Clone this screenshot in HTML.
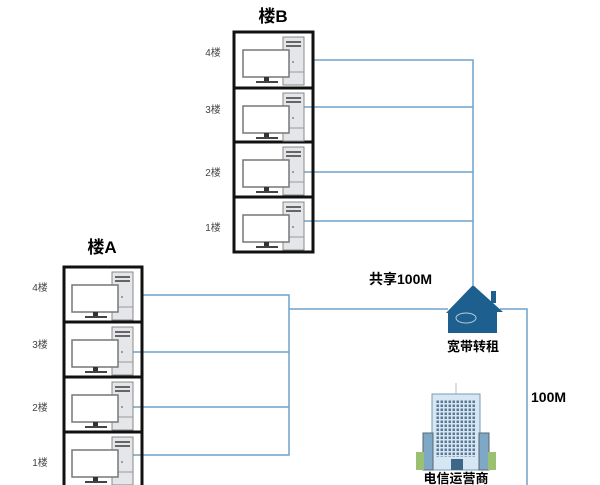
<!DOCTYPE html>
<html><head><meta charset="utf-8"><style>
body{margin:0;background:#fff;width:600px;height:485px;overflow:hidden}
svg{display:block}
text{font-family:"Liberation Sans","Noto Sans CJK SC",sans-serif}
</style></head><body>
<svg width="600" height="485" viewBox="0 0 600 485">
<defs>
<g id="pc">
  <rect x="49" y="5" width="21" height="48" fill="#e4e6ea" stroke="#888" stroke-width="1"/>
  <rect x="52" y="9" width="15" height="2" fill="#666"/>
  <rect x="52" y="13" width="15" height="2" fill="#666"/>
  <circle cx="59" cy="30" r="1" fill="#888"/>
  <line x1="49" y1="40" x2="70" y2="40" stroke="#999"/>
  <rect x="9" y="18" width="46" height="27" fill="#fff" stroke="#777" stroke-width="1.5"/>
  <rect x="30" y="45" width="5" height="4" fill="#333"/>
  <rect x="22" y="49" width="22" height="2" fill="#444"/>
</g>
<pattern id="win" x="0" y="0" width="4" height="4" patternUnits="userSpaceOnUse">
  <rect width="4" height="4" fill="#d6e6f2"/>
  <rect x="0.5" y="0.5" width="2.5" height="2.5" fill="#5a7a96"/>
</pattern>
</defs>
<g stroke="#6fa3cc" stroke-width="1.5" fill="none">
  <polyline points="314,60 473,60 473,285"/>
  <line x1="300" y1="107" x2="473" y2="107"/>
  <line x1="300" y1="172" x2="473" y2="172"/>
  <line x1="300" y1="221" x2="473" y2="221"/>
  <polyline points="143,295 289,295 289,455 128,455"/>
  <line x1="128" y1="352" x2="289" y2="352"/>
  <line x1="128" y1="407" x2="289" y2="407"/>
  <line x1="289" y1="309" x2="448" y2="309"/>
  <polyline points="500,309 527,309 527,485"/>
</g>
<text x="273" y="22" font-size="17" font-weight="bold" text-anchor="middle">楼B</text>
<rect x="234" y="32" width="79" height="220" fill="none" stroke="#111" stroke-width="3"/>
<g stroke="#111" stroke-width="3"><line x1="234" y1="88" x2="313" y2="88"/><line x1="234" y1="142" x2="313" y2="142"/><line x1="234" y1="197" x2="313" y2="197"/></g>
<use href="#pc" x="234" y="32"/><use href="#pc" x="234" y="88"/><use href="#pc" x="234" y="142"/><use href="#pc" x="234" y="197"/>
<g font-size="10" fill="#444" text-anchor="middle"><text x="213" y="56">4楼</text><text x="213" y="113">3楼</text><text x="213" y="176">2楼</text><text x="213" y="231">1楼</text></g>
<text x="102" y="253" font-size="17" font-weight="bold" text-anchor="middle">楼A</text>
<rect x="64" y="267" width="78" height="220" fill="none" stroke="#111" stroke-width="3"/>
<g stroke="#111" stroke-width="3"><line x1="64" y1="322" x2="142" y2="322"/><line x1="64" y1="377" x2="142" y2="377"/><line x1="64" y1="432" x2="142" y2="432"/></g>
<use href="#pc" x="63" y="267"/><use href="#pc" x="63" y="322"/><use href="#pc" x="63" y="377"/><use href="#pc" x="63" y="432"/>
<g font-size="10" fill="#444" text-anchor="middle"><text x="40" y="291">4楼</text><text x="40" y="348">3楼</text><text x="40" y="411">2楼</text><text x="40" y="466">1楼</text></g>
<text x="369" y="284" font-size="14" font-weight="bold">共享100M</text>
<text x="531" y="402" font-size="14" font-weight="bold">100M</text>
<g fill="#1d5f8f">
  <polygon points="446,313 473,285 503,312 497,312 497,333 448,333 448,313"/>
  <rect x="491" y="291" width="5" height="12"/>
</g>
<ellipse cx="466" cy="318" rx="10" ry="5" fill="none" stroke="#bcd" stroke-width="1"/>
<text x="473" y="351" font-size="13" font-weight="bold" text-anchor="middle">宽带转租</text>
<line x1="456" y1="383" x2="456" y2="394" stroke="#bbb"/>
<rect x="432" y="394" width="48" height="76" fill="#d6e6f2" stroke="#7a9bb5"/>
<rect x="436" y="399" width="40" height="58" fill="url(#win)"/>
<rect x="423" y="433" width="10" height="37" fill="#7fa8c6" stroke="#567"/>
<rect x="479" y="433" width="10" height="37" fill="#7fa8c6" stroke="#567"/>
<rect x="416" y="452" width="8" height="18" fill="#9bc071"/>
<rect x="488" y="452" width="8" height="18" fill="#9bc071"/>
<rect x="451" y="459" width="12" height="11" fill="#3d6688"/>
<text x="456" y="483" font-size="13" font-weight="bold" text-anchor="middle">电信运营商</text>
</svg>
</body></html>
